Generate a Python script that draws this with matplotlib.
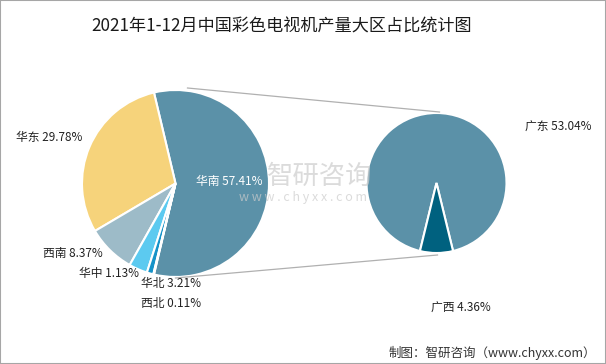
import matplotlib
matplotlib.use("Agg")
import matplotlib.pyplot as plt
from matplotlib.patches import Rectangle

plt.rcParams['font.family'] = ['Noto Sans CJK SC', 'DejaVu Sans']

# 数据
regions = ['华南', '华东', '西南', '华北', '华中', '西北']
shares = [57.41, 29.78, 8.37, 3.21, 1.13, 0.11]
sub_regions = ['广东', '广西']
sub_shares = [53.04, 4.36]

title = '2021年1-12月中国彩色电视机产量大区占比统计图'
source = '制图：智研咨询（www.chyxx.com）'

colors = ['#5b91a8', '#f6d37b', '#9dbbc8', '#5ccaf0', '#1592c8', '#0b5f85']
sub_colors = ['#5b91a8', '#00617f']

W, H = 606, 364
fig = plt.figure(figsize=(W / 100, H / 100), dpi=100)
ax = fig.add_axes([0, 0, 1, 1])

# 左侧饼图
lc, lr = (175.5, H - 183.5), 93.5
start = -shares[0] / sum(shares) * 360 / 2
ax.pie(shares, colors=colors, startangle=start, counterclock=True,
       center=lc, radius=lr, frame=True,
       wedgeprops=dict(edgecolor='white', linewidth=1.5))

# 右侧饼图
rc, rr = (436.5, H - 183), 70
sub_start = 270 + sub_shares[1] / sum(sub_shares) * 360 / 2
ax.pie(sub_shares, colors=sub_colors, startangle=sub_start, counterclock=True,
       center=rc, radius=rr, frame=True,
       wedgeprops=dict(edgecolor='white', linewidth=1.5))

# 连接线
ax.plot([lc[0] + 12, rc[0] + 3], [lc[1] + lr + 2, rc[1] + rr + 1], color='#b0b0b0', lw=0.9)
ax.plot([lc[0], rc[0] + 1], [lc[1] - lr - 1, rc[1] - rr - 2], color='#b0b0b0', lw=0.9)

ax.set_xlim(0, W)
ax.set_ylim(0, H)
ax.set_aspect('auto')
ax.axis('off')

# 水印
ax.text(320, H - 176, '智研咨询', fontsize=19, color='#cccccc', alpha=0.7,
        ha='center', va='center')
ax.text(303, H - 197, 'w w w . c h y x x . c o m', fontsize=9, color='#cccccc',
        alpha=0.7, ha='center', va='center')

# 标签
lab = [f'{n} {v:.2f}%' for n, v in zip(regions, shares)]
fs = 8.5
ax.text(229, H - 182, lab[0], fontsize=fs, color='white', ha='center', va='center')
ax.text(49, H - 137, lab[1], fontsize=fs, color='#222222', ha='center', va='center')
ax.text(73, H - 253, lab[2], fontsize=fs, color='#222222', ha='center', va='center')
ax.text(171, H - 284, lab[3], fontsize=fs, color='#222222', ha='center', va='center')
ax.text(109, H - 274, lab[4], fontsize=fs, color='#222222', ha='center', va='center')
ax.text(171, H - 303, lab[5], fontsize=fs, color='#222222', ha='center', va='center')

sub_lab = [f'{n} {v:.2f}%' for n, v in zip(sub_regions, sub_shares)]
ax.text(558, H - 127, sub_lab[0], fontsize=fs, color='#222222', ha='center', va='center')
ax.text(461, H - 308, sub_lab[1], fontsize=fs, color='#222222', ha='center', va='center')

# 标题与来源
fig.text(282 / W, 1 - 27 / H, title, fontsize=12.3, color='#1a1a1a',
         ha='center', va='center')
fig.text(492 / W, 1 - 353 / H, source, fontsize=9, color='#333333',
         ha='center', va='center')

# 外框
fig.patches.append(Rectangle((0, 0), 1, 1, transform=fig.transFigure, fill=False,
                             edgecolor='#a6a6a6', linewidth=1.5))

fig.savefig('out.png', dpi=100)
